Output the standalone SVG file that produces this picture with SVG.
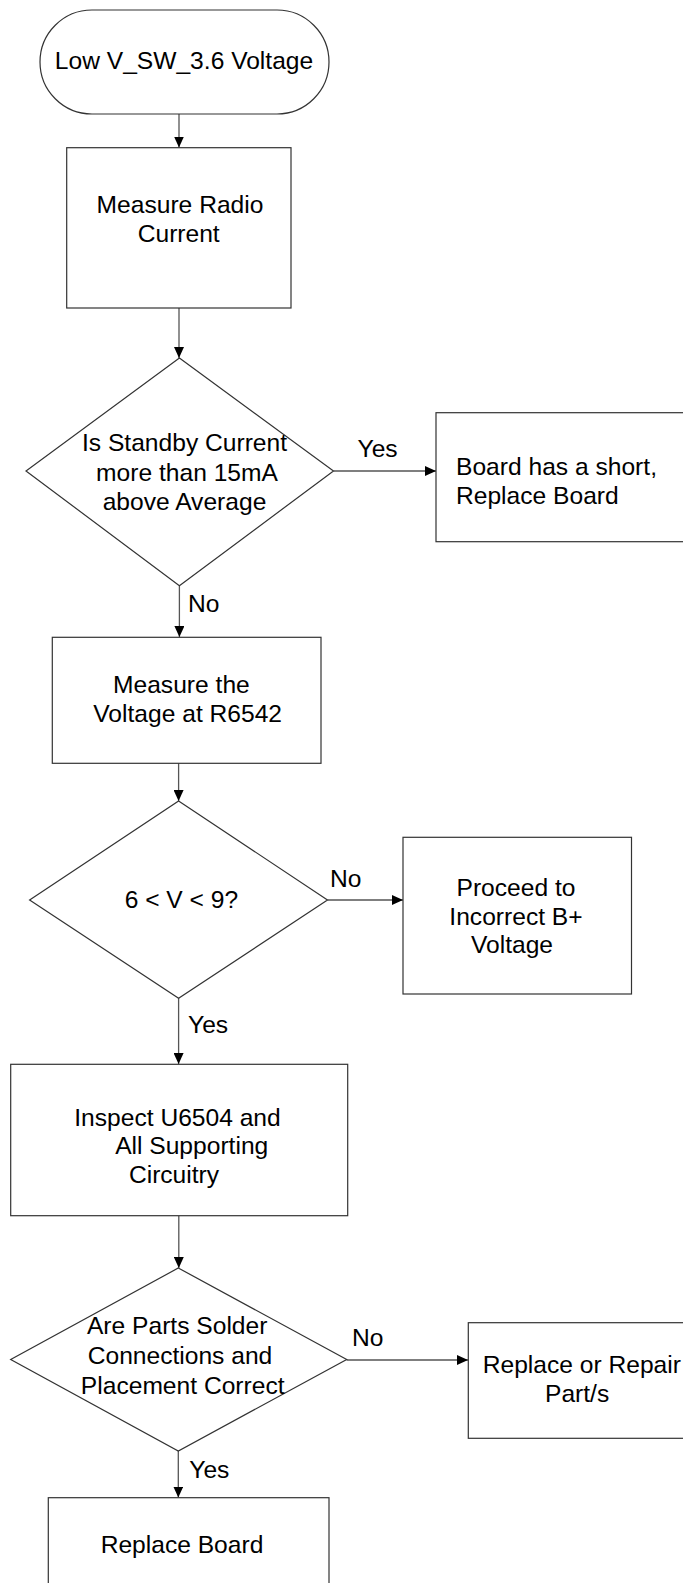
<svg xmlns="http://www.w3.org/2000/svg" width="683" height="1583" viewBox="0 0 683 1583">
<defs>
<marker id="arr" markerUnits="userSpaceOnUse" markerWidth="11" markerHeight="10" refX="11" refY="5" orient="auto">
<path d="M0,0 L11,5 L0,10 z" fill="#000"/>
</marker>
<style>
.shape{fill:#fff;stroke:#333;stroke-width:1.2}
.conn{fill:none;stroke:#555;stroke-width:1.3}
text{font-family:"Liberation Sans",Arial,sans-serif;font-size:24.6px;fill:#000}
.c{text-anchor:middle}
</style>
</defs>
<rect width="683" height="1583" fill="#fff"/>
<g id="connectors">
<line class="conn" x1="179" y1="114" x2="179" y2="147.5" marker-end="url(#arr)"/>
<line class="conn" x1="179" y1="308" x2="179" y2="358" marker-end="url(#arr)"/>
<line class="conn" x1="179.4" y1="586" x2="179.4" y2="637" marker-end="url(#arr)"/>
<line class="conn" x1="178.6" y1="763" x2="178.6" y2="801" marker-end="url(#arr)"/>
<line class="conn" x1="178.6" y1="998" x2="178.6" y2="1064" marker-end="url(#arr)"/>
<line class="conn" x1="178.8" y1="1216" x2="178.8" y2="1268" marker-end="url(#arr)"/>
<line class="conn" x1="178.3" y1="1451" x2="178.3" y2="1497.5" marker-end="url(#arr)"/>
<line class="conn" x1="333.5" y1="471" x2="436" y2="471" marker-end="url(#arr)"/>
<line class="conn" x1="327.5" y1="900" x2="403" y2="900" marker-end="url(#arr)"/>
<line class="conn" x1="346.7" y1="1360" x2="468" y2="1360" marker-end="url(#arr)"/>
<text x="357.5" y="457.3">Yes</text>
<text x="188" y="611.7">No</text>
<text x="330" y="886.7">No</text>
<text x="188" y="1033">Yes</text>
<text x="352" y="1346">No</text>
<text x="189.3" y="1478.3">Yes</text>
</g>
<g id="start">
<rect class="shape" x="40" y="10" width="289" height="104" rx="52" ry="52"/>
<text class="c" x="184" y="69">Low V_SW_3.6 Voltage</text>
</g>
<g id="measure-current">
<rect class="shape" x="66.7" y="147.7" width="224.3" height="160.3"/>
<text class="c" x="180" y="213.3">Measure Radio</text>
<text class="c" x="178.7" y="242.3">Current</text>
</g>
<g id="decision-standby">
<polygon class="shape" points="179.4,358 333.5,471 179.4,585.7 26,471"/>
<text class="c" x="184.5" y="451">Is Standby Current</text>
<text class="c" x="187" y="480.5">more than 15mA</text>
<text class="c" x="184.5" y="510">above Average</text>
</g>
<g id="board-short">
<rect class="shape" x="436" y="412.7" width="270" height="129"/>
<text x="456" y="475">Board has a short,</text>
<text x="456" y="503.5">Replace Board</text>
</g>
<g id="measure-voltage">
<rect class="shape" x="52.3" y="637.3" width="268.7" height="126"/>
<text class="c" x="181.4" y="692.7">Measure the</text>
<text class="c" x="187.7" y="721.7">Voltage at R6542</text>
</g>
<g id="decision-voltage">
<polygon class="shape" points="178.6,801 327.5,900 178.6,998.3 29.6,900"/>
<text class="c" x="181.4" y="908.3">6 &lt; V &lt; 9?</text>
</g>
<g id="incorrect-bplus">
<rect class="shape" x="403" y="837.3" width="228.5" height="156.7"/>
<text class="c" x="516" y="896">Proceed to</text>
<text class="c" x="516" y="925">Incorrect B+</text>
<text class="c" x="512" y="953.3">Voltage</text>
</g>
<g id="inspect">
<rect class="shape" x="10.7" y="1064.3" width="337" height="151.4"/>
<text class="c" x="177.5" y="1125.7">Inspect U6504 and</text>
<text class="c" x="191.7" y="1154.3">All Supporting</text>
<text class="c" x="174" y="1183.3">Circuitry</text>
</g>
<g id="decision-parts">
<polygon class="shape" points="178.3,1268 346.7,1359.5 178.3,1451 10.7,1359.5"/>
<text class="c" x="177.2" y="1334">Are Parts Solder</text>
<text class="c" x="180" y="1364.3">Connections and</text>
<text class="c" x="182.7" y="1394">Placement Correct</text>
</g>
<g id="repair-parts">
<rect class="shape" x="468.3" y="1322.7" width="240" height="115.6"/>
<text x="482.7" y="1372.7">Replace or Repair</text>
<text x="545" y="1401.7">Part/s</text>
</g>
<g id="replace-board">
<rect class="shape" x="48.3" y="1497.7" width="280.7" height="110"/>
<text class="c" x="182" y="1553.3">Replace Board</text>
</g>
</svg>
